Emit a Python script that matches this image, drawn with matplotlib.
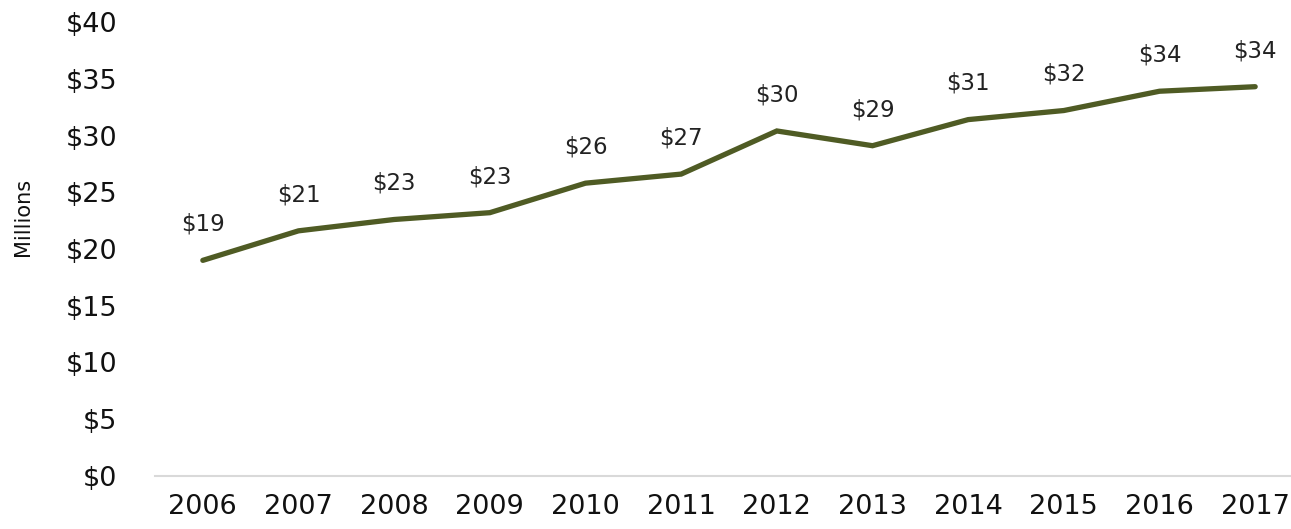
import matplotlib
matplotlib.use("Agg")
import matplotlib.pyplot as plt

years = ["2006", "2007", "2008", "2009", "2010", "2011", "2012", "2013", "2014", "2015", "2016", "2017"]
values = [19.0, 21.6, 22.6, 23.2, 25.8, 26.6, 30.4, 29.1, 31.4, 32.2, 33.9, 34.3]
labels = ["$19", "$21", "$23", "$23", "$26", "$27", "$30", "$29", "$31", "$32", "$34", "$34"]
yticks = [0, 5, 10, 15, 20, 25, 30, 35, 40]
ytick_labels = ["$0", "$5", "$10", "$15", "$20", "$25", "$30", "$35", "$40"]

plt.rcParams['font.family'] = ['DejaVu Sans']

fig = plt.figure(figsize=(12.91, 5.29), dpi=100)
ax = fig.add_axes([155/1291, 53/529, (1303-155)/1291, (476-22)/529])

x = list(range(len(years)))
ax.plot(x, values, color="#4F5B24", linewidth=3.8, solid_capstyle='round', solid_joinstyle='miter')

for xi, v, lab in zip(x, values, labels):
    ax.annotate(lab, (xi, v), xytext=(0, 26), textcoords='offset points',
                ha='center', va='center', fontsize=16.5, color='#222222')

ax.set_xlim(-0.5, len(years) - 0.5)
ax.set_ylim(0, 40)
ax.set_xticks(x)
ax.set_xticklabels(years, fontsize=19.5, color='#111111')
ax.set_yticks(yticks)
ax.set_yticklabels(ytick_labels, fontsize=19.5, color='#111111')
ax.tick_params(axis='y', length=0, pad=27)
ax.tick_params(axis='x', length=0, pad=13)

for s in ['top', 'right', 'left']:
    ax.spines[s].set_visible(False)
ax.spines['bottom'].set_color('#D9D9D9')
ax.spines['bottom'].set_linewidth(1.5)

fig.text(23/1291, 1 - 217/529, "Millions", rotation=90, ha='center', va='center', fontsize=15, color='#111111')

fig.savefig("out.png", dpi=100)
